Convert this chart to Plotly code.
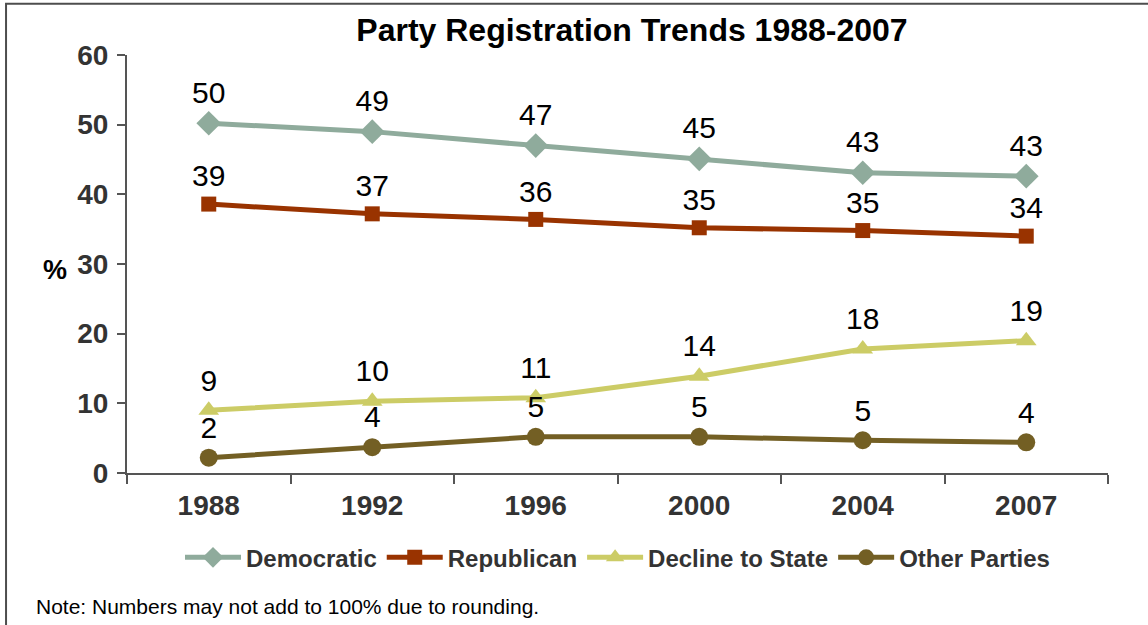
import plotly.graph_objects as go

# Registration share (%) by year
years = ["1988", "1992", "1996", "2000", "2004", "2007"]
democratic = [50.2, 49.0, 47.0, 45.1, 43.1, 42.6]
republican = [38.6, 37.2, 36.4, 35.2, 34.8, 34.0]
decline_to_state = [9.0, 10.3, 10.8, 13.9, 17.8, 19.0]
other_parties = [2.2, 3.7, 5.2, 5.2, 4.7, 4.4]

y_ticks = [0, 10, 20, 30, 40, 50, 60]

FONT = "Liberation Sans, Arial, sans-serif"

series = [
    ("Democratic", democratic, "#8fab9c", "diamond", 19),
    ("Republican", republican, "#993300", "square", 15),
    ("Decline to State", decline_to_state, "#cccc66", "triangle-up", 18),
    ("Other Parties", other_parties, "#735f24", "circle", 18),
]

fig = go.Figure()
for name, vals, color, symbol, size in series:
    fig.add_trace(go.Scatter(
        x=years,
        y=vals,
        name=name,
        mode="lines+markers+text",
        line=dict(color=color, width=5),
        marker=dict(symbol=symbol, size=size, color=color),
        text=[f"{v:.0f}" for v in vals],
        textposition="top center",
        textfont=dict(family=FONT, size=30, color="#000000"),
        cliponaxis=False,
    ))

fig.update_layout(
    width=1148,
    height=625,
    margin=dict(l=127, r=40, t=55, b=152),
    paper_bgcolor="white",
    plot_bgcolor="white",
    font=dict(family=FONT),
    title=dict(
        text="Party Registration Trends 1988-2007",
        x=0.5505, xref="container", xanchor="center",
        y=0.952, yref="container", yanchor="middle",
        font=dict(family=FONT, size=32, color="#000000", weight="bold"),
    ),
    xaxis=dict(
        type="category",
        range=[-0.5, 5.5],
        showgrid=False,
        showline=True, linecolor="#555555", linewidth=2,
        ticks="outside", tickson="boundaries", ticklen=9,
        tickcolor="#555555", tickwidth=2,
        tickfont=dict(family=FONT, size=28, color="#333333", weight="bold"),
        ticklabelstandoff=6,
        zeroline=False,
    ),
    yaxis=dict(
        range=[0, 60],
        tickvals=y_ticks,
        showgrid=False,
        showline=True, linecolor="#555555", linewidth=2,
        ticks="outside", ticklen=8, tickcolor="#555555", tickwidth=2,
        tickfont=dict(family=FONT, size=28, color="#333333", weight="bold"),
        ticklabelstandoff=3,
        zeroline=False,
    ),
    legend=dict(
        orientation="h",
        x=0.5, xanchor="center",
        y=-0.2026, yanchor="middle",
        font=dict(family=FONT, size=24, color="#333333", weight="bold"),
        itemwidth=56,
        bgcolor="rgba(0,0,0,0)",
    ),
    showlegend=True,
)

# Axis title "%"
fig.add_annotation(
    text="%", x=-0.0734, y=0.486, xref="paper", yref="paper",
    showarrow=False, xanchor="center", yanchor="middle",
    font=dict(family=FONT, size=27, color="#000000", weight="bold"),
)

# Footnote below the legend
fig.add_annotation(
    text="Note: Numbers may not add to 100% due to rounding.",
    x=-0.0945, y=-0.32, xref="paper", yref="paper",
    showarrow=False, xanchor="left", yanchor="middle",
    font=dict(family=FONT, size=21, color="#000000"),
)

# Frame around the chart
fig.add_shape(
    type="rect", xref="paper", yref="paper",
    x0=-0.1233, y0=-0.6, x1=1.3, y1=1.1227,
    line=dict(color="#4d4d4d", width=2),
    fillcolor="rgba(0,0,0,0)", layer="below",
)

fig.write_html("out.html")
